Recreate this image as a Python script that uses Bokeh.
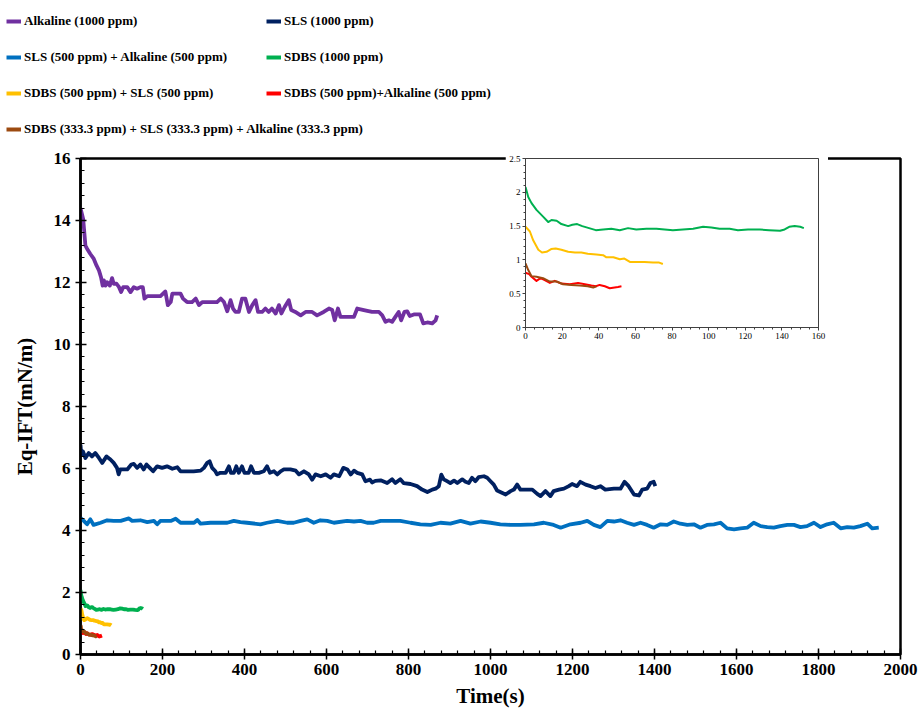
from bokeh.plotting import figure
from bokeh.models import Range1d, SingleIntervalTicker, Legend, LegendItem, GridBox, Column
from bokeh.embed import file_html
from bokeh.resources import INLINE

# ---------------- data ----------------
alk_t = [0, 6.5, 12, 16, 24, 32.5, 39, 45, 50, 54, 57, 61, 65, 71.5, 77, 81, 88, 94, 99, 104, 114, 122, 130, 138, 146,
         152, 156, 163, 195, 207, 213, 220, 224, 232, 244, 250, 260, 272, 281, 289, 297, 309, 321, 333, 342, 350, 358,
         366, 372, 378, 386, 394, 402, 411, 419, 427, 433, 443, 451, 459, 467, 476, 484, 490, 498, 508, 514, 524, 537,
         549, 565, 577, 593, 606, 614, 620, 628, 634, 650, 667, 675, 691, 711, 728, 736, 744, 752, 760, 768, 776, 782,
         790, 797, 803, 813, 828, 836, 846, 858, 866, 870]
alk_v = [14.4, 14.05, 13.19, 13.09, 12.92, 12.76, 12.55, 12.39, 12.17, 11.9, 12.07, 11.9, 12.01, 11.9, 12.14, 11.96,
         11.96, 11.85, 11.69, 11.85, 11.85, 11.69, 11.85, 11.8, 11.85, 11.85, 11.48, 11.56, 11.56, 11.71, 11.27, 11.37,
         11.64, 11.64, 11.64, 11.48, 11.37, 11.37, 11.48, 11.27, 11.37, 11.37, 11.37, 11.37, 11.48, 11.37, 11.07, 11.43,
         11.16, 11.05, 11.05, 11.48, 11.48, 11.05, 11.27, 11.43, 11.05, 11.05, 11.16, 11.05, 11.16, 11.0, 11.27, 11.0,
         11.21, 11.43, 11.11, 11.05, 10.94, 11.05, 11.05, 10.94, 11.05, 11.16, 11.11, 10.78, 11.16, 10.89, 10.89, 10.89,
         11.16, 11.11, 11.05, 11.05, 10.94, 10.73, 10.78, 10.73, 10.89, 11.05, 10.78, 11.05, 11.07, 10.92, 10.97, 10.97,
         10.68, 10.71, 10.68, 10.78, 10.94]

sls_t = [0, 1.6, 6, 12, 20, 28, 36, 45, 53, 63.5, 73, 81, 89, 93, 97, 114, 124, 130, 138, 146, 154, 161, 169, 177, 187,
         199, 211, 224, 236, 244, 260, 276, 293, 301, 309, 315, 321, 329, 333, 341, 354, 362, 367, 374, 380, 386, 394,
         400, 410, 416, 423, 435, 447, 455, 462, 472, 480, 488, 496, 512, 525, 533, 545, 557, 565, 573, 586, 598, 610,
         618, 631, 641, 651, 659, 667, 675, 687, 695, 706, 711, 719, 732, 748, 760, 768, 780, 788, 805, 821, 833, 846,
         858, 866, 874, 880, 886, 894, 902, 911, 919, 931, 939, 947, 955, 963, 971, 984, 992, 1000, 1008, 1016, 1029,
         1037, 1049, 1057, 1065, 1073, 1090, 1102, 1114, 1122, 1134, 1146, 1154, 1167, 1179, 1191, 1199, 1211, 1219,
         1232, 1244, 1256, 1268, 1280, 1301, 1317, 1327, 1337, 1350, 1362, 1370, 1382, 1390, 1398, 1402]
sls_v = [6.77, 6.45, 6.55, 6.34, 6.5, 6.39, 6.5, 6.34, 6.18, 6.39, 6.29, 6.18, 6.02, 5.81, 5.97, 5.97, 6.13, 6.15, 6.02,
         6.13, 5.97, 6.13, 6.02, 5.91, 6.07, 6.02, 6.07, 5.99, 6.04, 5.91, 5.91, 5.91, 5.93, 6.02, 6.18, 6.23, 6.02, 5.91,
         5.81, 5.86, 5.86, 6.07, 5.86, 5.86, 6.07, 5.86, 6.07, 5.86, 5.86, 6.07, 5.86, 5.86, 5.91, 6.07, 5.86, 5.91, 5.81,
         5.91, 5.97, 5.97, 5.93, 5.81, 5.91, 5.81, 5.64, 5.81, 5.75, 5.81, 5.7, 5.81, 5.75, 6.02, 5.97, 5.81, 5.93, 5.86,
         5.81, 5.59, 5.64, 5.55, 5.6, 5.62, 5.53, 5.65, 5.53, 5.65, 5.53, 5.5, 5.43, 5.32, 5.24, 5.32, 5.35, 5.43, 5.8,
         5.65, 5.59, 5.53, 5.61, 5.53, 5.65, 5.57, 5.53, 5.7, 5.59, 5.72, 5.75, 5.7, 5.59, 5.48, 5.29, 5.21, 5.16, 5.27,
         5.32, 5.48, 5.32, 5.32, 5.32, 5.18, 5.11, 5.27, 5.11, 5.27, 5.32, 5.35, 5.43, 5.5, 5.43, 5.57, 5.48, 5.43, 5.37,
         5.43, 5.32, 5.35, 5.35, 5.57, 5.43, 5.16, 5.13, 5.32, 5.35, 5.53, 5.57, 5.43]

sa_t = [0, 8, 16, 24, 32, 49, 65, 81, 98, 118, 126, 146, 163, 179, 187, 195, 220, 232, 244, 277, 285, 293, 317, 358, 374,
        390, 406, 439, 455, 480, 504, 520, 537, 553, 569, 585, 602, 618, 650, 667, 683, 699, 715, 732, 780, 805, 829,
        854, 878, 902, 927, 951, 976, 1000, 1024, 1049, 1073, 1106, 1130, 1154, 1171, 1195, 1220, 1236, 1252, 1268,
        1285, 1301, 1317, 1333, 1350, 1366, 1382, 1398, 1415, 1431, 1447, 1463, 1480, 1496, 1512, 1528, 1545, 1561,
        1577, 1594, 1610, 1626, 1642, 1659, 1675, 1691, 1707, 1724, 1740, 1756, 1772, 1789, 1805, 1821, 1837, 1854,
        1870, 1886, 1902, 1919, 1931, 1947]
sa_v = [4.41, 4.31, 4.2, 4.36, 4.18, 4.25, 4.33, 4.31, 4.31, 4.39, 4.31, 4.33, 4.27, 4.31, 4.2, 4.31, 4.31, 4.38, 4.25,
        4.25, 4.34, 4.22, 4.25, 4.25, 4.31, 4.27, 4.25, 4.2, 4.25, 4.31, 4.25, 4.25, 4.31, 4.36, 4.25, 4.33, 4.31, 4.25,
        4.31, 4.29, 4.31, 4.25, 4.25, 4.31, 4.31, 4.25, 4.2, 4.18, 4.25, 4.22, 4.31, 4.22, 4.29, 4.25, 4.2, 4.18, 4.18,
        4.2, 4.25, 4.18, 4.09, 4.2, 4.25, 4.31, 4.18, 4.11, 4.31, 4.29, 4.33, 4.25, 4.18, 4.25, 4.18, 4.09, 4.2, 4.18,
        4.29, 4.22, 4.18, 4.2, 4.09, 4.18, 4.2, 4.25, 4.07, 4.04, 4.07, 4.09, 4.25, 4.14, 4.11, 4.09, 4.14, 4.18, 4.18,
        4.11, 4.14, 4.25, 4.11, 4.2, 4.25, 4.07, 4.11, 4.09, 4.14, 4.22, 4.07, 4.09]

sdbs_t = [0, 1.5, 3.3, 6, 9.6, 12.4, 14.2, 17, 19.6, 23.3, 25.6, 28.2, 31, 34.7, 38.4, 42.4, 46.9, 51.5, 56, 60.5, 66,
          71.5, 76, 80.5, 86, 91.5, 97, 101.5, 106, 111.5, 116, 121.5, 128, 133, 139, 141.5, 144, 147, 150, 152]
sdbs_v = [2.08, 1.93, 1.84, 1.74, 1.64, 1.56, 1.59, 1.58, 1.53, 1.5, 1.52, 1.53, 1.5, 1.47, 1.44, 1.45, 1.46, 1.44, 1.47,
          1.45, 1.46, 1.46, 1.45, 1.44, 1.45, 1.46, 1.49, 1.48, 1.46, 1.46, 1.44, 1.45, 1.45, 1.44, 1.43, 1.45, 1.49,
          1.5, 1.49, 1.47]

ss_t = [0, 2.4, 4.2, 7, 9, 11.5, 14, 16.5, 19.6, 23.3, 27, 30.5, 34, 38.7, 42.4, 44, 48, 51.5, 54, 57, 60.5, 65, 69.6,
        73, 75]
ss_v = [1.49, 1.42, 1.29, 1.15, 1.11, 1.12, 1.16, 1.17, 1.15, 1.12, 1.11, 1.11, 1.09, 1.08, 1.07, 1.04, 1.04, 1.01,
        1.02, 0.97, 0.97, 0.97, 0.96, 0.96, 0.94]

sk_t = [0, 2, 3.3, 6, 8.2, 10.5, 13.3, 16, 19.6, 24.2, 28.7, 32.4, 36, 38.4, 40.5, 43.3, 46, 50.5, 52.4]
sk_v = [0.81, 0.79, 0.75, 0.69, 0.73, 0.7, 0.66, 0.69, 0.65, 0.64, 0.66, 0.64, 0.62, 0.61, 0.63, 0.61, 0.58, 0.6, 0.61]

tri_t = [0, 1.5, 3.3, 6, 9.6, 13.3, 17, 20.5, 25, 29.6, 34, 37, 38.7]
tri_v = [0.95, 0.85, 0.76, 0.75, 0.73, 0.68, 0.68, 0.64, 0.63, 0.62, 0.61, 0.59, 0.61]

names = ["Alkaline (1000 ppm)", "SLS (1000 ppm)", "SLS (500 ppm) + Alkaline (500 ppm)", "SDBS (1000 ppm)",
         "SDBS (500 ppm) + SLS (500 ppm)", "SDBS (500 ppm)+Alkaline (500 ppm)",
         "SDBS (333.3 ppm) + SLS (333.3 ppm) + Alkaline (333.3 ppm)"]
colors = ["#7030A0", "#002060", "#0070C0", "#00B050", "#FFC000", "#FF0000", "#9C4A10"]
series = [(alk_t, alk_v), (sls_t, sls_v), (sa_t, sa_v), (sdbs_t, sdbs_v), (ss_t, ss_v), (sk_t, sk_v), (tri_t, tri_v)]

x_ticks_step = 200
y_ticks_step = 2

FONT = "Liberation Serif"

# ---------------- legend strip (top 150 px) ----------------
# the strip's ranges lie outside all data, so its lines only feed the legend swatches
lg = figure(width=921, height=150, x_range=Range1d(-20, -10), y_range=Range1d(-20, -10),
            output_backend="svg", toolbar_location=None,
            x_axis_location=None, y_axis_location=None,
            min_border_left=0, min_border_right=0, min_border_top=0, min_border_bottom=0)
lg.xgrid.visible = False
lg.ygrid.visible = False
lg.outline_line_color = None
lg.background_fill_color = "white"
lg.border_fill_color = "white"
lg_renderers = [lg.line(t, v, line_color=c, line_width=4) for (t, v), c in zip(series, colors)]

leg_common = dict(label_text_font=FONT, label_text_font_style="bold", label_text_font_size="13px",
                  label_text_color="black",
                  glyph_width=15, glyph_height=20, label_height=20, spacing=16, padding=0, margin=0,
                  border_line_color=None, background_fill_alpha=0, label_standoff=3)
left_idx = [0, 2, 4, 6]
right_idx = [1, 3, 5]
leg1 = Legend(items=[LegendItem(label=names[i], renderers=[lg_renderers[i]]) for i in left_idx],
              location=(6, 11), **leg_common)
leg2 = Legend(items=[LegendItem(label=names[i], renderers=[lg_renderers[i]]) for i in right_idx],
              location=(266, 47), **leg_common)
lg.add_layout(leg1, "center")
lg.add_layout(leg2, "center")

# ---------------- main figure ----------------
p = figure(width=921, height=560, x_range=Range1d(0, 2000), y_range=Range1d(0, 16),
           output_backend="svg", toolbar_location=None,
           min_border_left=80, min_border_right=21, min_border_top=6, min_border_bottom=56)
p.background_fill_color = "white"
p.border_fill_color = "white"
p.outline_line_color = "black"
p.outline_line_width = 2.5
p.xgrid.visible = False
p.ygrid.visible = False

for (t, v), c in zip(series, colors):
    p.line(t, v, line_color=c, line_width=3.8, line_join="round")

p.xaxis.ticker = SingleIntervalTicker(interval=x_ticks_step, num_minor_ticks=5)
p.yaxis.ticker = SingleIntervalTicker(interval=y_ticks_step, num_minor_ticks=5)
for ax in (p.xaxis[0], p.yaxis[0]):
    ax.axis_line_width = 2.5
    ax.axis_line_color = "black"
    ax.major_tick_line_width = 1.5
    ax.minor_tick_line_width = 1.2
    ax.major_tick_in = 6
    ax.major_tick_out = 5
    ax.minor_tick_in = 4
    ax.minor_tick_out = 0
    ax.major_label_text_font = FONT
    ax.major_label_text_font_style = "bold"
    ax.major_label_text_font_size = "17px"
    ax.major_label_text_color = "black"
    ax.axis_label_text_font = FONT
    ax.axis_label_text_font_style = "bold"
    ax.axis_label_text_font_size = "21px"
    ax.axis_label_text_color = "black"
p.xaxis.axis_label = "Time(s)"
p.yaxis.axis_label = "Eq-IFT(mN/m)"
p.xaxis.major_label_standoff = 4
p.xaxis.axis_label_standoff = 6
p.yaxis.major_label_standoff = 5
p.yaxis.axis_label_standoff = 14

# ---------------- inset ----------------
ins = figure(width=323, height=195, x_range=Range1d(0, 160), y_range=Range1d(0, 2.5),
             output_backend="svg", toolbar_location=None,
             min_border_left=20, min_border_right=10, min_border_top=8, min_border_bottom=18)
ins.background_fill_color = "white"
ins.border_fill_color = "white"
ins.outline_line_color = "#404040"
ins.outline_line_width = 1
ins.xgrid.visible = False
ins.ygrid.visible = False
for (t, v), c in list(zip(series, colors))[3:]:
    ins.line(t, v, line_color=c, line_width=2, line_join="round")
ins.xaxis.ticker = SingleIntervalTicker(interval=20, num_minor_ticks=4)
ins.yaxis.ticker = SingleIntervalTicker(interval=0.5, num_minor_ticks=5)
for ax in (ins.xaxis[0], ins.yaxis[0]):
    ax.axis_line_color = "#404040"
    ax.axis_line_width = 1
    ax.major_tick_line_color = "#404040"
    ax.minor_tick_line_color = "#404040"
    ax.major_tick_in = 0
    ax.major_tick_out = 3
    ax.minor_tick_in = 0
    ax.minor_tick_out = 2
    ax.major_label_text_font = FONT
    ax.major_label_text_font_size = "9px"
    ax.major_label_text_color = "black"
    ax.major_label_standoff = 2

grid = GridBox(children=[(p, 0, 0, 2, 3), (ins, 0, 1, 1, 1)],
               rows=["195px", "365px"], cols=["505px", "323px", "93px"])

open("out.html", "w").write(file_html(Column(lg, grid), INLINE))
